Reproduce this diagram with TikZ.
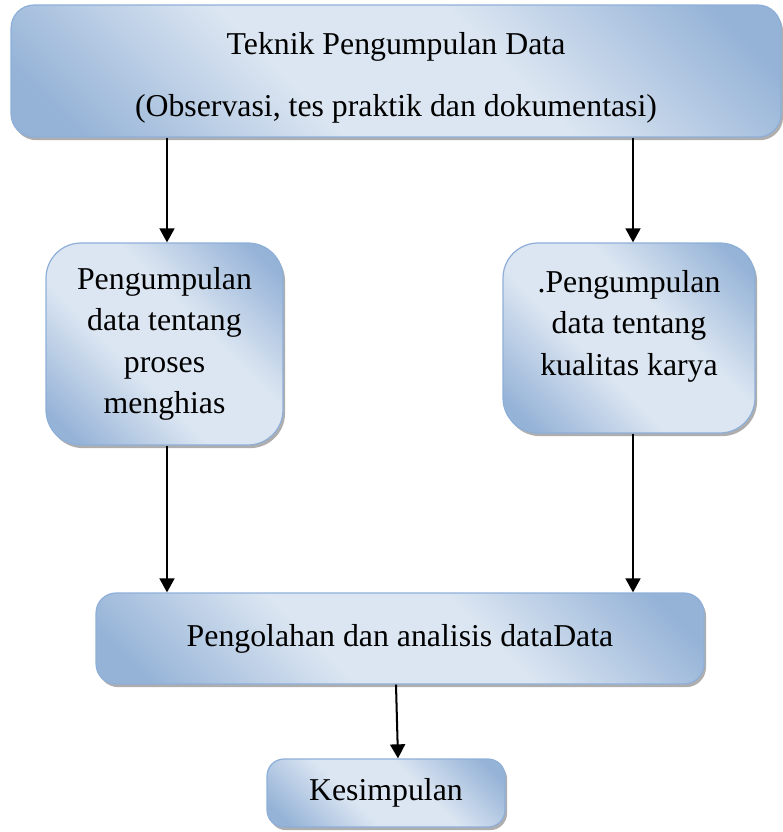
\documentclass[tikz,border=0pt]{standalone}
\usepackage{fontspec}
\setmainfont{Liberation Serif}
\usetikzlibrary{arrows.meta,shadows}
\definecolor{boxlight}{HTML}{DCE6F2}
\definecolor{boxdark}{HTML}{95B3D7}
\definecolor{boxline}{HTML}{8EAFD9}
\pgfdeclareverticalshading{boxshade}{100bp}{color(0bp)=(boxdark); color(20bp)=(boxdark);
  color(41bp)=(boxlight); color(59bp)=(boxlight); color(80bp)=(boxdark); color(100bp)=(boxdark)}
\begin{document}
\begin{tikzpicture}[x=0.02cm, y=-0.02cm,
    box/.style={draw=boxline, line width=0.7pt, shading=boxshade, shading angle=-45,
      drop shadow={shadow xshift=1.2pt, shadow yshift=-1.8pt, fill=black!45, opacity=0.7},
      align=center, inner sep=0pt, font=\fontsize{18.1}{23.6}\selectfont},
    arr/.style={line width=1.15pt, -{Triangle[length=8pt,width=8.5pt]}}]
    \useasboundingbox (0,0) rectangle (782,832);
    \node(top) [box, rounded corners=0.46cm, minimum width=15.4cm, minimum height=2.64cm] at (396,71)
        {\mbox{}\\[-3.3pt]Teknik Pengumpulan Data\\[12.1pt](Observasi, tes praktik dan dokumentasi)};
    \node(left) [box, rounded corners=0.7cm, minimum width=4.74cm, minimum height=4.04cm] at (164.5,344)
        {Pengumpulan\\data tentang\\proses\\menghias};
    \node(right) [box, rounded corners=0.7cm, minimum width=5.04cm, minimum height=3.8cm] at (629,338)
        {.Pengumpulan\\data tentang\\kualitas karya\\[-6.1pt]\mbox{}};
    \node(bottom) [box, rounded corners=0.4cm, minimum width=12.16cm, minimum height=1.82cm] at (400,638.5)
        {Pengolahan dan analisis dataData};
    \node(kes) [box, rounded corners=0.34cm, minimum width=4.76cm, minimum height=1.36cm] at (386,793)
        {Kesimpulan};
    \draw[arr]([xshift=0.05cm]top.south -| left.north) to ([xshift=0.05cm]left.north);
    \draw[arr]([xshift=0.08cm]top.south -| right.north) to ([xshift=0.08cm]right.north);
    \draw[arr]([xshift=0.05cm]left.south) to ([xshift=0.05cm]bottom.north -| left.south);
    \draw[arr]([xshift=0.08cm]right.south) to ([xshift=0.08cm]bottom.north -| right.south);
    \draw[arr]([xshift=-0.08cm]bottom.south) to ([xshift=0.24cm]kes.north);
\end{tikzpicture}
\end{document}
